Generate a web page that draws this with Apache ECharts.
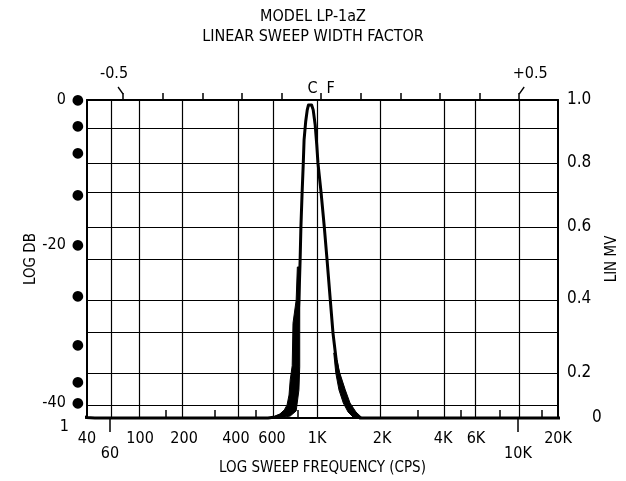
<!DOCTYPE html>
<html>
<head>
<meta charset="utf-8">
<script src="https://cdn.jsdelivr.net/npm/echarts@6.0.0/dist/echarts.min.js"></script>
<style>
  html, body { margin: 0; padding: 0; background: #fff; }
  #chart { width: 626px; height: 481px; }
</style>
</head>
<body>
<div id="chart"></div>
<script>
// top scale: linear sweep width factor
var sweepTicks = [-0.5, -0.4, -0.3, -0.2, -0.1, 0, 0.1, 0.2, 0.3, 0.4, 0.5];
var sweepMin = -0.591, sweepMax = 0.598;

// bottom scale: frequency (chart paper is not a true log scale, so keep where each one sits on the sweep scale)
var freqHz     = [40, 60, 100, 200, 400, 600, 1000, 2000, 4000, 6000, 10000, 20000];
var freqLabels = ['40', '60', '100', '200', '400', '600', '1K', '2K', '4K', '6K', '10K', '20K'];
var freqAt     = [-0.591, -0.533, -0.457, -0.346, -0.215, -0.124, -0.010, 0.154, 0.308, 0.391, 0.497, 0.598];
var minorHz    = [150, 300, 500, 800, 3000, 5000, 8000, 15000];

// right scale: LIN MV, left scale: LOG DB (both non-linear on the paper, 0..1 = bottom..top)
var mvLevels = [0, 0.1, 0.2, 0.3, 0.4, 0.5, 0.6, 0.7, 0.8, 0.9, 1.0];
var mvPaper  = [0, 0.041, 0.142, 0.267, 0.374, 0.497, 0.601, 0.708, 0.802, 0.906, 1.0];
var mvLabels = ['0', '0.2', '0.4', '0.6', '0.8', '1.0'];
var dbLevels = [0, -5, -10, -15, -20, -25, -30, -35, -40];
var dbPaper  = [1.0, 0.918, 0.833, 0.701, 0.544, 0.381, 0.230, 0.113, 0.047];

// recorded trace: x in sweep factor, y in LIN MV
var traceX  = [-0.639, -0.626, -0.611, -0.593, -0.571, -0.134, -0.116, -0.101, -0.088, -0.078, -0.071, -0.066, -0.061, -0.056,
               -0.053, -0.051, -0.048, -0.045, -0.043, -0.039, -0.035, -0.032, -0.028, -0.024, -0.020, -0.015, -0.011, -0.008,
               0.000, 0.008, 0.015, 0.023, 0.030, 0.038, 0.043, 0.053, 0.063, 0.073, 0.083, 0.098, 0.669, 0.672];
var traceMv = [0.054, 0.038, 0.023, 0.004, 0, 0, 0.008, 0.023, 0.046, 0.077, 0.116, 0.178, 0.283, 0.40,
               0.50, 0.60, 0.70, 0.80, 0.87, 0.927, 0.967, 0.983, 0.987, 0.983, 0.967, 0.917, 0.855, 0.80,
               0.70, 0.60, 0.50, 0.40, 0.30, 0.233, 0.20, 0.147, 0.106, 0.062, 0.031, 0, 0, 0.077];

// smeared (noisy) parts of the trace, as outlines
var bandLeftX   = [-0.060, -0.063, -0.071, -0.073, -0.078, -0.081, -0.086, -0.093, -0.104, -0.119, -0.134,
                   -0.104, -0.078, -0.063, -0.061, -0.056, -0.054, -0.054, -0.054, -0.054];
var bandLeftMv  = [0.482, 0.397, 0.329, 0.218, 0.178, 0.131, 0.1, 0.062, 0.031, 0.008, 0,
                   0, 0.015, 0.054, 0.1, 0.147, 0.215, 0.3, 0.397, 0.482];
var bandRightX  = [0.032, 0.037, 0.045, 0.056, 0.068, 0.083, 0.104, 0.088, 0.073, 0.061, 0.047, 0.036];
var bandRightMv = [0.25, 0.2, 0.147, 0.106, 0.046, 0, 0, 0.046, 0.106, 0.147, 0.2, 0.25];

var FONT = "'Liberation Sans Narrow', 'DejaVu Sans Condensed', 'Arial Narrow', sans-serif";

function interp(v, xs, ys) {
  for (var i = 1; i < xs.length; i++) {
    if (v <= xs[i] || i === xs.length - 1) {
      var t = (v - xs[i - 1]) / (xs[i] - xs[i - 1]);
      return ys[i - 1] + t * (ys[i] - ys[i - 1]);
    }
  }
}
var logHz = freqHz.map(function (f) { return Math.log10(f); });
function sweepOf(hz) { return interp(Math.log10(hz), logHz, freqAt); }
function paperOf(mv) { return interp(mv, mvLevels, mvPaper); }
function pick(v, vals, labels) {
  for (var i = 0; i < vals.length; i++) if (Math.abs(vals[i] - v) < 1e-6) return labels[i];
  return '';
}
function pairs(xs, ys) {
  return xs.map(function (x, i) { return [x, paperOf(ys[i])]; });
}

var traceData = pairs(traceX, traceMv);
var bands = [pairs(bandLeftX, bandLeftMv), pairs(bandRightX, bandRightMv)];

var mvLabelLevels = [0, 0.2, 0.4, 0.6, 0.8, 1.0];
var mvLabelAt = mvLabelLevels.map(paperOf);
var gridVert = freqAt.slice(1, -1);
var gridHorz = mvPaper.slice(1, -1);
var dbLabelAt = dbPaper.concat([0]);

var black = '#000';

var chart = echarts.init(document.getElementById('chart'));
var option = {
  animation: false,
  backgroundColor: '#fff',
  title: {
    text: 'MODEL LP-1aZ\nLINEAR SWEEP WIDTH FACTOR',
    left: 'center',
    top: 2,
    textStyle: { fontFamily: FONT, fontSize: 16, fontWeight: 'normal', color: black, lineHeight: 20 }
  },
  grid: [
    { left: 87, top: 100, right: 68, bottom: 63, outerBoundsMode: 'none' },
    { left: 87, top: 100, right: 68, bottom: 63, outerBoundsMode: 'none' }
  ],
  xAxis: [
    {
      type: 'value', gridIndex: 0, position: 'bottom',
      min: sweepMin, max: sweepMax,
      name: 'LOG SWEEP FREQUENCY (CPS)', nameLocation: 'middle', nameGap: 43, nameMoveOverlap: false,
      nameTextStyle: { fontFamily: FONT, fontSize: 15, color: black },
      axisLine: { onZero: false, lineStyle: { color: black, width: 2 } },
      axisTick: { customValues: minorHz.map(sweepOf), inside: true, length: 8, lineStyle: { color: black, width: 1.5 } },
      axisLabel: {
        customValues: freqAt, margin: 13, color: black, fontFamily: FONT, fontSize: 16, lineHeight: 15,
        formatter: function (v) {
          var t = pick(v, freqAt, freqLabels);
          return (t === '60' || t === '10K') ? '\n' + t : t;
        }
      },
      splitLine: { show: false }
    },
    {
      type: 'value', gridIndex: 0, position: 'top',
      min: sweepMin, max: sweepMax,
      axisLine: { onZero: false, lineStyle: { color: black, width: 2 } },
      axisTick: { customValues: sweepTicks, length: 7, lineStyle: { color: black, width: 1.5 } },
      axisLabel: {
        customValues: [-0.5, 0, 0.5], margin: 3, color: black, fontFamily: FONT, fontSize: 16,
        formatter: function (v) {
          if (Math.abs(v) < 1e-6) return '{c|C  F}';
          return v < 0 ? '{a|-0.5}' : '{b|+0.5}';
        },
        rich: {
          a: { fontFamily: FONT, fontSize: 16, color: black, padding: [0, 18, 15, 0] },
          b: { fontFamily: FONT, fontSize: 16, color: black, padding: [0, 0, 15, 22] },
          c: { fontFamily: FONT, fontSize: 16, color: black }
        }
      },
      splitLine: { show: false }
    },
    {
      type: 'value', gridIndex: 1, position: 'bottom',
      min: sweepMin, max: sweepMax,
      axisLine: { show: false, onZero: false },
      axisTick: { customValues: [sweepOf(60), sweepOf(10000)], length: 14, lineStyle: { color: black, width: 1.5 } },
      axisLabel: { show: false },
      splitLine: { show: false }
    }
  ],
  yAxis: [
    {
      type: 'value', gridIndex: 0, position: 'left', min: 0, max: 1,
      name: 'LOG DB', nameLocation: 'middle', nameGap: 48, nameRotate: 90, nameMoveOverlap: false,
      nameTextStyle: { fontFamily: FONT, fontSize: 15, color: black },
      axisLine: { show: true, onZero: false, lineStyle: { color: black, width: 2 } },
      axisTick: { show: false },
      axisLabel: {
        customValues: dbLabelAt, margin: 3, color: black,
        formatter: function (v) {
          if (Math.abs(v) < 1e-6) return '{one|1}';
          var db = pick(v, dbPaper, dbLevels);
          return db % 20 === 0 ? '{t|' + db + '}{d|●}' : '{d|●}';
        },
        rich: {
          t: { fontFamily: FONT, fontSize: 16, color: black, padding: [0, 6, 0, 0] },
          d: { fontFamily: 'DejaVu Sans', fontSize: 14, color: black },
          one: { fontFamily: FONT, fontSize: 16, color: black, padding: [18, 15, 0, 0] }
        }
      },
      splitLine: { show: false }
    },
    {
      type: 'value', gridIndex: 0, position: 'right', min: 0, max: 1,
      name: 'LIN MV', nameLocation: 'middle', nameGap: 47, nameRotate: 90, nameMoveOverlap: false,
      nameTextStyle: { fontFamily: FONT, fontSize: 15, color: black },
      axisLine: { show: true, onZero: false, lineStyle: { color: black, width: 2 } },
      axisTick: { show: false },
      axisLabel: {
        customValues: mvLabelAt, margin: 9, color: black,
        formatter: function (v) {
          var t = pick(v, mvLabelAt, mvLabels);
          return t === '0' ? '{z|0}' : '{n|' + t + '}';
        },
        rich: {
          n: { fontFamily: FONT, fontSize: 17, color: black },
          z: { fontFamily: FONT, fontSize: 17, color: black, padding: [0, 0, 0, 25] }
        }
      },
      splitLine: { show: false }
    },
    { type: 'value', gridIndex: 1, min: 0, max: 1, show: false }
  ],
  series: [
    {
      name: 'grid', type: 'line', xAxisIndex: 0, yAxisIndex: 0, z: 1,
      data: traceData, symbol: 'none', silent: true,
      lineStyle: { opacity: 0 },
      markLine: {
        silent: true, symbol: ['none', 'none'], label: { show: false },
        lineStyle: { color: black, width: 1.2, type: 'solid' },
        data: gridVert.map(function (v) { return { xAxis: v }; })
          .concat(gridHorz.map(function (v) { return { yAxis: v }; }))
      }
    },
    {
      name: 'trace', type: 'line', xAxisIndex: 0, yAxisIndex: 0, z: 3,
      data: traceData, symbol: 'none', clip: false, silent: true,
      lineStyle: { color: black, width: 3, join: 'round' }
    },
    {
      name: 'smear', type: 'custom', xAxisIndex: 0, yAxisIndex: 0, z: 4, clip: false, silent: true,
      data: bands.map(function (b, i) { return [i]; }),
      renderItem: function (params, api) {
        var pts = bands[params.dataIndex].map(function (p) { return api.coord(p); });
        return { type: 'polygon', shape: { points: pts }, style: { fill: black, stroke: black, lineWidth: 1 } };
      }
    }
  ]
};
chart.setOption(option);

// little leaders from the -0.5 / +0.5 labels down to their ticks
var topY = chart.convertToPixel({ yAxisIndex: 0 }, 1);
var leaders = [-0.5, 0.5].map(function (s) {
  var x = chart.convertToPixel({ xAxisIndex: 1 }, s);
  var dir = s < 0 ? -1 : 1;
  return {
    type: 'polyline', silent: true,
    shape: { points: [[x, topY - 6], [x + dir * 5, topY - 13]] },
    style: { stroke: black, lineWidth: 1.3, fill: null }
  };
});
chart.setOption({ graphic: leaders });

window.addEventListener('resize', function () { chart.resize(); });
</script>
</body>
</html>
